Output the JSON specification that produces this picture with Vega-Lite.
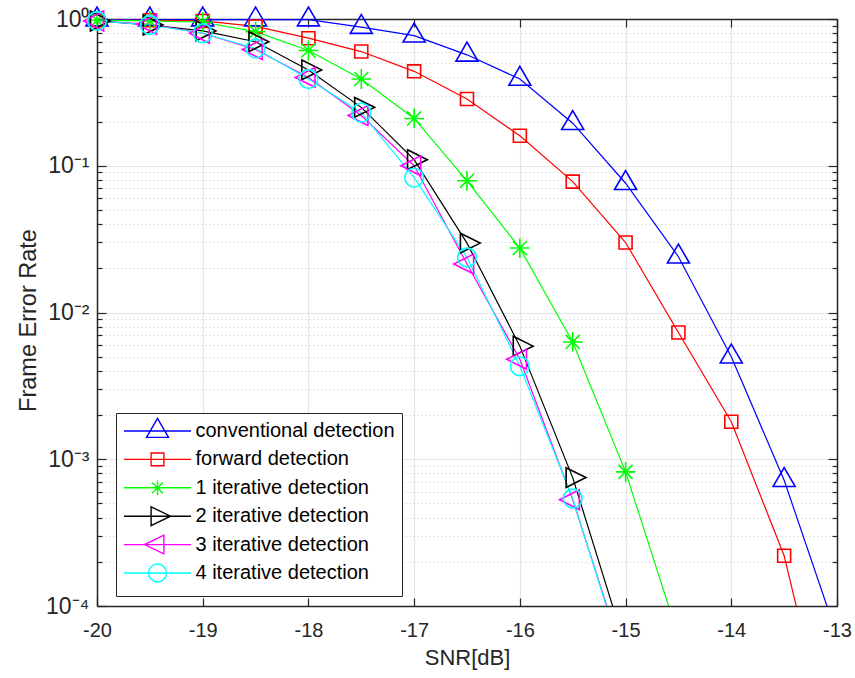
{
  "$schema": "https://vega.github.io/schema/vega-lite/v6.json",
  "width": 740,
  "height": 587,
  "autosize": "none",
  "padding": {"left": 97, "top": 19, "right": 18, "bottom": 72},
  "background": "white",
  "config": {
    "font": "Liberation Sans",
    "view": {"stroke": null},
    "axis": {"labelColor": "#262626", "titleColor": "#262626", "tickColor": "#262626", "domainColor": "#262626", "domainWidth": 1.5, "tickWidth": 1.2, "titleFontWeight": "normal", "labelFont": "Liberation Sans", "titleFont": "Liberation Sans"}
  },
  "data": {
    "values": [
      {"series": "conventional detection", "snr": -20, "fer": 0.99},
      {"series": "conventional detection", "snr": -19.5, "fer": 0.99},
      {"series": "conventional detection", "snr": -19, "fer": 0.99},
      {"series": "conventional detection", "snr": -18.5, "fer": 0.99},
      {"series": "conventional detection", "snr": -18, "fer": 0.99},
      {"series": "conventional detection", "snr": -17.5, "fer": 0.88},
      {"series": "conventional detection", "snr": -17, "fer": 0.77},
      {"series": "conventional detection", "snr": -16.5, "fer": 0.57},
      {"series": "conventional detection", "snr": -16, "fer": 0.39},
      {"series": "conventional detection", "snr": -15.5, "fer": 0.195},
      {"series": "conventional detection", "snr": -15, "fer": 0.076},
      {"series": "conventional detection", "snr": -14.5, "fer": 0.024},
      {"series": "conventional detection", "snr": -14, "fer": 0.005},
      {"series": "conventional detection", "snr": -13.5, "fer": 0.00072},
      {"series": "conventional detection", "snr": -13, "fer": 0.000063},
      {"series": "forward detection", "snr": -20, "fer": 0.98},
      {"series": "forward detection", "snr": -19.5, "fer": 0.98},
      {"series": "forward detection", "snr": -19, "fer": 0.97},
      {"series": "forward detection", "snr": -18.5, "fer": 0.89},
      {"series": "forward detection", "snr": -18, "fer": 0.74},
      {"series": "forward detection", "snr": -17.5, "fer": 0.6},
      {"series": "forward detection", "snr": -17, "fer": 0.44},
      {"series": "forward detection", "snr": -16.5, "fer": 0.285},
      {"series": "forward detection", "snr": -16, "fer": 0.16},
      {"series": "forward detection", "snr": -15.5, "fer": 0.078},
      {"series": "forward detection", "snr": -15, "fer": 0.03},
      {"series": "forward detection", "snr": -14.5, "fer": 0.0073},
      {"series": "forward detection", "snr": -14, "fer": 0.0018},
      {"series": "forward detection", "snr": -13.5, "fer": 0.00022},
      {"series": "forward detection", "snr": -13, "fer": 0.000007},
      {"series": "1 iterative detection", "snr": -20, "fer": 0.98},
      {"series": "1 iterative detection", "snr": -19.5, "fer": 0.97},
      {"series": "1 iterative detection", "snr": -19, "fer": 0.95},
      {"series": "1 iterative detection", "snr": -18.5, "fer": 0.82},
      {"series": "1 iterative detection", "snr": -18, "fer": 0.61},
      {"series": "1 iterative detection", "snr": -17.5, "fer": 0.39},
      {"series": "1 iterative detection", "snr": -17, "fer": 0.21},
      {"series": "1 iterative detection", "snr": -16.5, "fer": 0.079},
      {"series": "1 iterative detection", "snr": -16, "fer": 0.0275},
      {"series": "1 iterative detection", "snr": -15.5, "fer": 0.0063},
      {"series": "1 iterative detection", "snr": -15, "fer": 0.00082},
      {"series": "1 iterative detection", "snr": -14.5, "fer": 0.000062},
      {"series": "2 iterative detection", "snr": -20, "fer": 0.97},
      {"series": "2 iterative detection", "snr": -19.5, "fer": 0.91},
      {"series": "2 iterative detection", "snr": -19, "fer": 0.83},
      {"series": "2 iterative detection", "snr": -18.5, "fer": 0.7},
      {"series": "2 iterative detection", "snr": -18, "fer": 0.45},
      {"series": "2 iterative detection", "snr": -17.5, "fer": 0.25},
      {"series": "2 iterative detection", "snr": -17, "fer": 0.11},
      {"series": "2 iterative detection", "snr": -16.5, "fer": 0.0297},
      {"series": "2 iterative detection", "snr": -16, "fer": 0.0059},
      {"series": "2 iterative detection", "snr": -15.5, "fer": 0.00075},
      {"series": "2 iterative detection", "snr": -15, "fer": 0.000052},
      {"series": "3 iterative detection", "snr": -20, "fer": 0.97},
      {"series": "3 iterative detection", "snr": -19.5, "fer": 0.92},
      {"series": "3 iterative detection", "snr": -19, "fer": 0.8},
      {"series": "3 iterative detection", "snr": -18.5, "fer": 0.62},
      {"series": "3 iterative detection", "snr": -18, "fer": 0.4},
      {"series": "3 iterative detection", "snr": -17.5, "fer": 0.22},
      {"series": "3 iterative detection", "snr": -17, "fer": 0.1},
      {"series": "3 iterative detection", "snr": -16.5, "fer": 0.0214},
      {"series": "3 iterative detection", "snr": -16, "fer": 0.0048},
      {"series": "3 iterative detection", "snr": -15.5, "fer": 0.00053},
      {"series": "3 iterative detection", "snr": -15, "fer": 0.00004},
      {"series": "4 iterative detection", "snr": -20, "fer": 0.97},
      {"series": "4 iterative detection", "snr": -19.5, "fer": 0.91},
      {"series": "4 iterative detection", "snr": -19, "fer": 0.8},
      {"series": "4 iterative detection", "snr": -18.5, "fer": 0.63},
      {"series": "4 iterative detection", "snr": -18, "fer": 0.39},
      {"series": "4 iterative detection", "snr": -17.5, "fer": 0.23},
      {"series": "4 iterative detection", "snr": -17, "fer": 0.083},
      {"series": "4 iterative detection", "snr": -16.5, "fer": 0.0237},
      {"series": "4 iterative detection", "snr": -16, "fer": 0.0043},
      {"series": "4 iterative detection", "snr": -15.5, "fer": 0.00054},
      {"series": "4 iterative detection", "snr": -15, "fer": 0.000038}
    ]
  },
  "resolve": {
    "scale": {"color": "independent", "shape": "independent"},
    "axis": {"x": "independent", "y": "independent"}
  },
  "layer": [
    {
      "mark": {"type": "line", "clip": true, "strokeWidth": 1.2},
      "encoding": {
        "x": {
          "field": "snr", "type": "quantitative",
          "scale": {"domain": [-20, -13], "nice": false, "zero": false},
          "axis": {
            "orient": "bottom",
            "values": [-20, -19, -18, -17, -16, -15, -14, -13],
            "labelExpr": "'' + datum.value",
            "labelFontSize": 20,
            "labelPadding": 22,
            "labelFlush": false,
            "tickSize": -8,
            "grid": true,
            "gridColor": "#e4e4e4",
            "gridWidth": 1.2,
            "title": "SNR[dB]",
            "titleFontSize": 22,
            "titlePadding": 7
          }
        },
        "y": {
          "field": "fer", "type": "quantitative",
          "scale": {"type": "log", "domain": [0.0001, 1], "nice": false},
          "axis": {
            "orient": "left",
            "values": [0.0001, 0.0002, 0.0003, 0.0004, 0.0005, 0.0006, 0.0007, 0.0008, 0.0009, 0.001, 0.002, 0.003, 0.004, 0.005, 0.006, 0.007, 0.008, 0.009, 0.01, 0.02, 0.03, 0.04, 0.05, 0.06, 0.07, 0.08, 0.09, 0.1, 0.2, 0.3, 0.4, 0.5, 0.6, 0.7, 0.8, 0.9, 1],
            "labelExpr": "datum.value == 1 ? '10⁰' : datum.value == 0.1 ? '10⁻¹' : datum.value == 0.01 ? '10⁻²' : datum.value == 0.001 ? '10⁻³' : datum.value == 0.0001 ? '10⁻⁴' : ''",
            "labelFontSize": 23,
            "labelPadding": 17,
            "labelFlush": false,
            "labelOverlap": false,
            "tickSize": {"condition": {"test": "indexof([0.0001, 0.001, 0.01, 0.1, 1], datum.value) >= 0", "value": -9}, "value": -5},
            "grid": true,
            "gridColor": {"condition": {"test": "indexof([0.0001, 0.001, 0.01, 0.1, 1], datum.value) >= 0", "value": "#e4e4e4"}, "value": "#c8c8c8"},
            "gridDash": {"condition": {"test": "indexof([0.0001, 0.001, 0.01, 0.1, 1], datum.value) >= 0", "value": []}, "value": [1, 3]},
            "gridWidth": 1.2,
            "title": "Frame Error Rate",
            "titleFontSize": 23.5,
            "titlePadding": 5,
            "titleY": 301
          }
        },
        "color": {
          "field": "series", "type": "nominal",
          "scale": {"domain": ["conventional detection", "forward detection", "1 iterative detection", "2 iterative detection", "3 iterative detection", "4 iterative detection"], "range": ["#0000ff", "#ff0000", "#00ff00", "#000000", "#ff00ff", "#00ffff"]},
          "legend": null
        }
      }
    },
    {
      "transform": [{"filter": "datum.fer >= 0.0001"}],
      "mark": {"type": "point", "filled": false, "size": 484, "strokeWidth": 1.6, "opacity": 1},
      "encoding": {
        "x": {"field": "snr", "type": "quantitative", "axis": null},
        "y": {"field": "fer", "type": "quantitative", "axis": null},
        "color": {
          "field": "series", "type": "nominal",
          "scale": {"domain": ["conventional detection", "forward detection", "1 iterative detection", "2 iterative detection", "3 iterative detection", "4 iterative detection"], "range": ["#0000ff", "#ff0000", "#00ff00", "#000000", "#ff00ff", "#00ffff"]},
          "legend": null
        },
        "shape": {
          "field": "series", "type": "nominal",
          "scale": {"domain": ["conventional detection", "forward detection", "1 iterative detection", "2 iterative detection", "3 iterative detection", "4 iterative detection"], "range": [
            "M-1,0.57L0,-1.15L1,0.57Z",
            "M-0.59,-0.59H0.59V0.59H-0.59Z",
            "M-0.9,0H0.9M0,-0.9V0.9M-0.64,-0.64L0.64,0.64M-0.64,0.64L0.64,-0.64",
            "M-0.6,-0.9L1.2,0L-0.6,0.9Z",
            "M0.6,-0.9L-1.2,0L0.6,0.9Z",
            "M-0.85,0A0.85,0.85 0 1,0 0.85,0A0.85,0.85 0 1,0 -0.85,0Z"
          ]},
          "legend": null
        }
      }
    },
    {
      "transform": [{"filter": "datum.fer >= 0.0001"}],
      "mark": {"type": "point", "filled": false, "opacity": 0, "size": 400},
      "encoding": {
        "x": {
          "field": "snr", "type": "quantitative",
          "axis": {"orient": "top", "values": [-20, -19, -18, -17, -16, -15, -14, -13], "labels": false, "grid": false, "tickSize": -8, "title": null}
        },
        "y": {
          "field": "fer", "type": "quantitative",
          "axis": {
            "orient": "right",
            "values": [0.0001, 0.0002, 0.0003, 0.0004, 0.0005, 0.0006, 0.0007, 0.0008, 0.0009, 0.001, 0.002, 0.003, 0.004, 0.005, 0.006, 0.007, 0.008, 0.009, 0.01, 0.02, 0.03, 0.04, 0.05, 0.06, 0.07, 0.08, 0.09, 0.1, 0.2, 0.3, 0.4, 0.5, 0.6, 0.7, 0.8, 0.9, 1],
            "labels": false, "grid": false, "title": null,
            "tickSize": {"condition": {"test": "indexof([0.0001, 0.001, 0.01, 0.1, 1], datum.value) >= 0", "value": -9}, "value": -5}
          }
        },
        "color": {
          "field": "series", "type": "nominal",
          "scale": {"domain": ["conventional detection", "forward detection", "1 iterative detection", "2 iterative detection", "3 iterative detection", "4 iterative detection"], "range": ["#0000ff", "#ff0000", "#00ff00", "#000000", "#ff00ff", "#00ffff"]},
          "legend": {"orient": "none", "legendX": 19, "legendY": 394, "title": null, "strokeColor": "#262626", "fillColor": "white", "padding": 7, "labelFontSize": 20, "labelColor": "#000000", "symbolSize": 400, "symbolStrokeWidth": 1.4, "symbolOpacity": 1, "symbolOffset": 23.5, "labelOffset": 27, "rowPadding": -3.6, "labelLimit": 400}
        },
        "shape": {
          "field": "series", "type": "nominal",
          "scale": {"domain": ["conventional detection", "forward detection", "1 iterative detection", "2 iterative detection", "3 iterative detection", "4 iterative detection"], "range": [
            "M0,-1.3L0,-1.3M0,1.3L0,1.3M-3.35,0H3.35M-1.1,0.64L0,-1.27L1.1,0.64Z",
            "M0,-1.3L0,-1.3M0,1.3L0,1.3M-3.35,0H3.35M-0.64,-0.64H0.64V0.64H-0.64Z",
            "M0,-1.3L0,-1.3M0,1.3L0,1.3M-3.35,0H3.35M-0.74,0H0.74M0,-0.74V0.74M-0.54,-0.54L0.54,0.54M-0.54,0.54L0.54,-0.54",
            "M0,-1.3L0,-1.3M0,1.3L0,1.3M-3.35,0H3.35M-0.64,-0.94L1.3,0L-0.64,0.94Z",
            "M0,-1.3L0,-1.3M0,1.3L0,1.3M-3.35,0H3.35M0.64,-0.94L-1.3,0L0.64,0.94Z",
            "M0,-1.3L0,-1.3M0,1.3L0,1.3M-3.35,0H3.35M-0.9,0A0.9,0.9 0 1,0 0.9,0A0.9,0.9 0 1,0 -0.9,0Z"
          ]},
          "legend": {"orient": "none", "legendX": 19, "legendY": 394, "title": null, "strokeColor": "#262626", "fillColor": "white", "padding": 7, "labelFontSize": 20, "labelColor": "#000000", "symbolSize": 400, "symbolStrokeWidth": 1.4, "symbolOpacity": 1, "symbolOffset": 23.5, "labelOffset": 27, "rowPadding": -3.6, "labelLimit": 400}
        }
      }
    }
  ]
}
